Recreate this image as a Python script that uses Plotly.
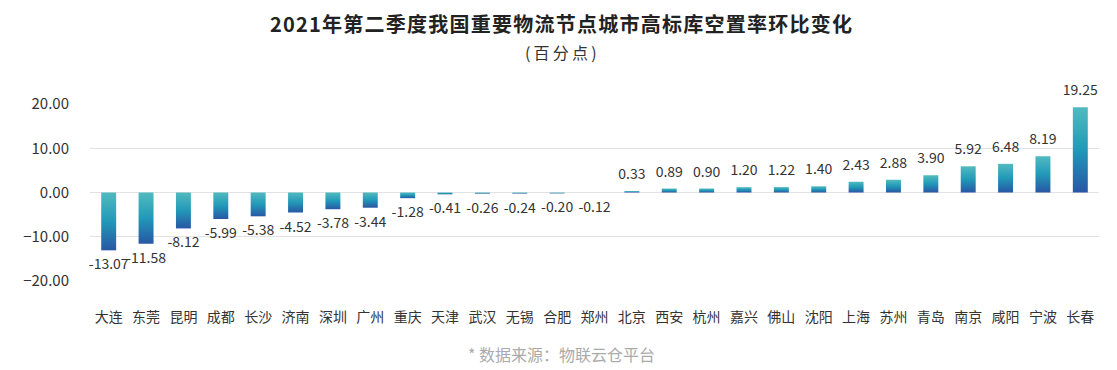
import plotly.graph_objects as go

cities = ["大连", "东莞", "昆明", "成都", "长沙", "济南", "深圳", "广州", "重庆", "天津",
          "武汉", "无锡", "合肥", "郑州", "北京", "西安", "杭州", "嘉兴", "佛山", "沈阳",
          "上海", "苏州", "青岛", "南京", "咸阳", "宁波", "长春"]
values = [-13.07, -11.58, -8.12, -5.99, -5.38, -4.52, -3.78, -3.44, -1.28, -0.41,
          -0.26, -0.24, -0.20, -0.12, 0.33, 0.89, 0.90, 1.20, 1.22, 1.40,
          2.43, 2.88, 3.90, 5.92, 6.48, 8.19, 19.25]
ytickvals = [-20, -10, 0, 10, 20]
title_text = "2021年第二季度我国重要物流节点城市高标库空置率环比变化"
subtitle_text = "(百分点)"
source_text = "* 数据来源：物联云仓平台"

FONT = "Noto Sans CJK SC, Microsoft YaHei, sans-serif"
half = 0.2
scale = [[0, "#2856A4"], [0.5, "#2199B8"], [1, "#52BABF"]]


def spaced(s, sep):
    return sep.join(list(s))


# page body has an 8px margin in the browser; compensate
OFF = 8
W, H = 1117 - OFF, 370 - OFF
L, R, T, B = 90 - OFF, 18, 104 - OFF, 370 - 281
plot_w = W - L - R
plot_h = H - T - B

fig = go.Figure()
for i, v in enumerate(values):
    fig.add_trace(go.Scatter(
        x=[i - half, i + half, i + half, i - half, i - half],
        y=[0, 0, v, v, 0],
        mode="lines", line=dict(width=0), fill="toself",
        fillgradient=dict(type="vertical", colorscale=scale),
        hoverinfo="skip", showlegend=False))

idx = list(range(len(values)))
fig.add_trace(go.Scatter(
    x=idx, y=values, mode="markers+text",
    marker=dict(size=12, opacity=0),
    text=[f"{v:.2f}" for v in values],
    textposition=["top center" if v >= 0 else "bottom center" for v in values],
    textfont=dict(size=14, color="#333333", family=FONT),
    cliponaxis=False, showlegend=False, hoverinfo="skip"))

cx = (561 - OFF - L) / plot_w

fig.update_layout(
    width=W, height=H,
    margin=dict(l=L, r=R, t=T, b=B),
    paper_bgcolor="white", plot_bgcolor="white",
    font=dict(family=FONT, color="#333333"),
    title=dict(text="<b>" + spaced(title_text, "\u200a") + "</b>",
               x=(561 - OFF) / W, xanchor="center", y=1 - (25 - OFF) / H, yanchor="middle",
               font=dict(size=20, color="#222222", family=FONT)),
    annotations=[
        dict(text=spaced(subtitle_text, "\u2009"), x=cx, xref="paper", xanchor="center",
             y=1 + (T - (52 - OFF)) / plot_h, yref="paper", yanchor="middle",
             showarrow=False, font=dict(size=16, color="#333333", family=FONT)),
        dict(text=source_text, x=cx, xref="paper", xanchor="center",
             y=-((354 - OFF) - (T + plot_h)) / plot_h, yref="paper", yanchor="middle",
             showarrow=False, font=dict(size=16, color="#AAAAAA", family=FONT)),
    ],
)

fig.update_xaxes(range=[-0.5, len(values) - 0.5], tickvals=idx, ticktext=cities,
                 showgrid=False, zeroline=False, showline=False, ticks="",
                 ticklabelstandoff=26,
                 tickfont=dict(size=14, color="#333333", family=FONT))
fig.update_yaxes(range=[-20, 20], tickvals=ytickvals, tickformat=".2f",
                 showgrid=True, gridcolor="#E2E2E2", gridwidth=1,
                 zeroline=True, zerolinecolor="#E2E2E2", zerolinewidth=1,
                 showline=False, ticks="", ticklabelstandoff=20,
                 tickfont=dict(size=15, color="#333333", family=FONT))

fig.write_html("out.html")
